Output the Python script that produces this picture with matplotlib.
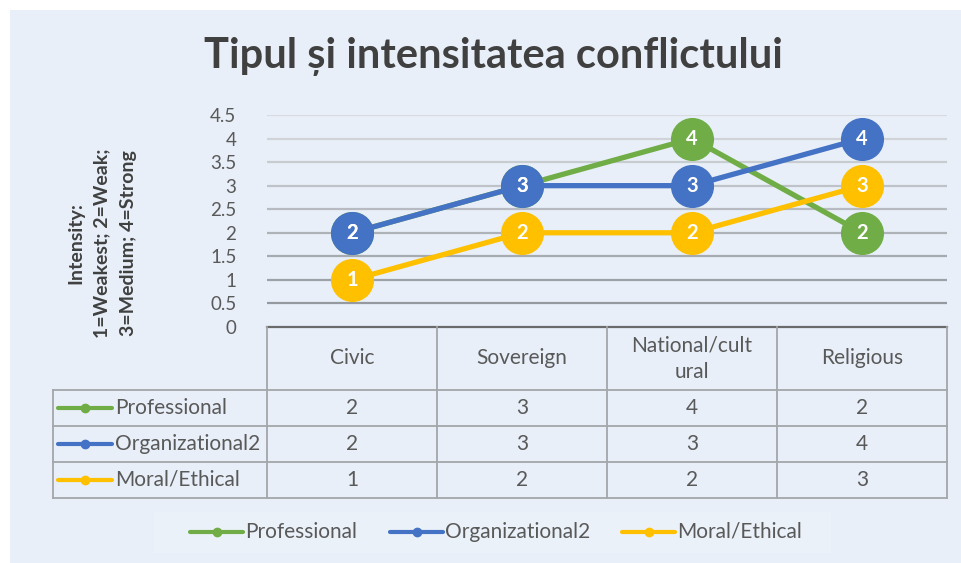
import matplotlib.pyplot as plt
from matplotlib.patches import Rectangle
import numpy as np

categories = ["Civic", "Sovereign", "National/cultural", "Religious"]
header_labels = ["Civic", "Sovereign", "National/cult\nural", "Religious"]
series_names = ["Professional", "Organizational2", "Moral/Ethical"]
professional = [2, 3, 4, 2]
organizational2 = [2, 3, 3, 4]
moral_ethical = [1, 2, 2, 3]
y_ticks = [0, 0.5, 1, 1.5, 2, 2.5, 3, 3.5, 4, 4.5]
title = "Tipul și intensitatea conflictului"
y_label = "Intensity:\n1=Weakest; 2=Weak;\n3=Medium; 4=Strong"

series_values = [professional, organizational2, moral_ethical]
colors = ["#70AD47", "#4472C4", "#FFC000"]
W, H = 961, 563
BG = "#E8EFF8"
TXT = "#595959"
FONT = "Lato"
FS = 15
plt.rcParams['font.family'] = [FONT, 'DejaVu Sans']

fig = plt.figure(figsize=(W / 100, H / 100), dpi=100)
fig.patch.set_facecolor("white")


def fx(px):
    return px / W


def fy(py):
    return 1 - py / H


# background overlay (pixel coordinates)
bg = fig.add_axes([0, 0, 1, 1], zorder=-10)
bg.set_xlim(0, W)
bg.set_ylim(H, 0)
bg.axis("off")
bg.add_patch(Rectangle((10, 10), W - 10, H - 10, facecolor=BG, edgecolor="none"))
bg.add_patch(Rectangle((154, 512), 677, 41, facecolor="#EBF1F9", edgecolor="none"))

# main plot axes
L, R, T, B = 267, 947, 115, 327
ax = fig.add_axes([fx(L), fy(B), fx(R - L), (B - T) / H])
ax.set_xlim(-0.5, 3.5)
ax.set_ylim(0, 4.5)
ax.patch.set_alpha(0)
for s in ax.spines.values():
    s.set_visible(False)
ax.set_xticks([])
ax.set_yticks(y_ticks)
ax.set_yticklabels([f"{t:g}" for t in y_ticks], fontsize=13.5, color=TXT)
ax.tick_params(axis="y", length=0, pad=22)

light = np.array([0xD8, 0xDC, 0xE1]) / 255
dark = np.array([0x95, 0x9A, 0xA0]) / 255
for t in y_ticks[1:]:
    f = (t - 0.5) / 4.0
    c = dark * (1 - f) + light * f
    ax.axhline(t, color=c, lw=1.6, zorder=1)
ax.axhline(0, color="#6A6A6A", lw=1.6, zorder=2, clip_on=False)

x = np.arange(len(categories))
for vals, col in zip(series_values, colors):
    ax.plot(x, vals, color=col, lw=3.8, marker="o", ms=30, zorder=3,
            clip_on=False)
    for xi, v in zip(x, vals):
        ax.text(xi, v, str(v), ha="center", va="center", color="white",
                fontsize=14.5, fontweight="bold", zorder=4)

# data table axes
TB = 498
tab = fig.add_axes([fx(L), fy(TB), fx(R - L), (TB - B) / H])
tab.set_xlim(-0.5, 3.5)
tab.set_ylim(TB - B, 0)
tab.axis("off")
px_per_unit = (R - L) / 4.0
xleft = -0.5 - (L - 53) / px_per_unit
gc = "#A3A6AA"
glw = 1.3
rows = [63, 99, 135, 171]
for xv in [-0.5, 0.5, 1.5, 2.5, 3.5]:
    tab.plot([xv, xv], [0, 171], color=gc, lw=glw, clip_on=False)
tab.plot([xleft, xleft], [63, 171], color=gc, lw=glw, clip_on=False)
for yv in rows:
    tab.plot([xleft, 3.5], [yv, yv], color=gc, lw=glw, clip_on=False)

for xi, lab in zip(x, header_labels):
    tab.text(xi, 31.5, lab, ha="center", va="center", fontsize=FS,
             color=TXT, linespacing=1.4)

row_centers = [81, 117, 153]
for name, vals, col, yc in zip(series_names, series_values, colors, row_centers):
    x0 = -0.5 + (58 - L) / px_per_unit
    x1 = -0.5 + (112 - L) / px_per_unit
    tab.plot([x0, (x0 + x1) / 2, x1], [yc, yc, yc], color=col, lw=3,
             marker="o", ms=6, markevery=[1], clip_on=False,
             solid_capstyle="round")
    tab.text(-0.5 + (115 - L) / px_per_unit, yc, name, ha="left",
             va="center", fontsize=FS, color=TXT)
    for xi, v in zip(x, vals):
        tab.text(xi, yc, str(v), ha="center", va="center", fontsize=FS,
                 color=TXT)

# title and y label
fig.text(fx(493), fy(57), title, ha="center", va="center", fontsize=30,
         fontweight="bold", color="#404040")
fig.text(fx(102), fy(243), y_label, ha="center", va="center", rotation=90,
         fontsize=14, fontweight="bold", color="#404040", linespacing=1.65,
         multialignment="center")

# bottom legend
leg_x = [(190, 243), (390, 443), (622, 675)]
for (a, b), name, col in zip(leg_x, series_names, colors):
    bg.plot([a, (a + b) / 2, b], [532, 532, 532], color=col, lw=3,
            marker="o", ms=6, markevery=[1], solid_capstyle="round")
    bg.text(b + 2, 532, name, ha="left", va="center", fontsize=FS,
            color=TXT)

fig.savefig("out.png", dpi=100, facecolor="white")
